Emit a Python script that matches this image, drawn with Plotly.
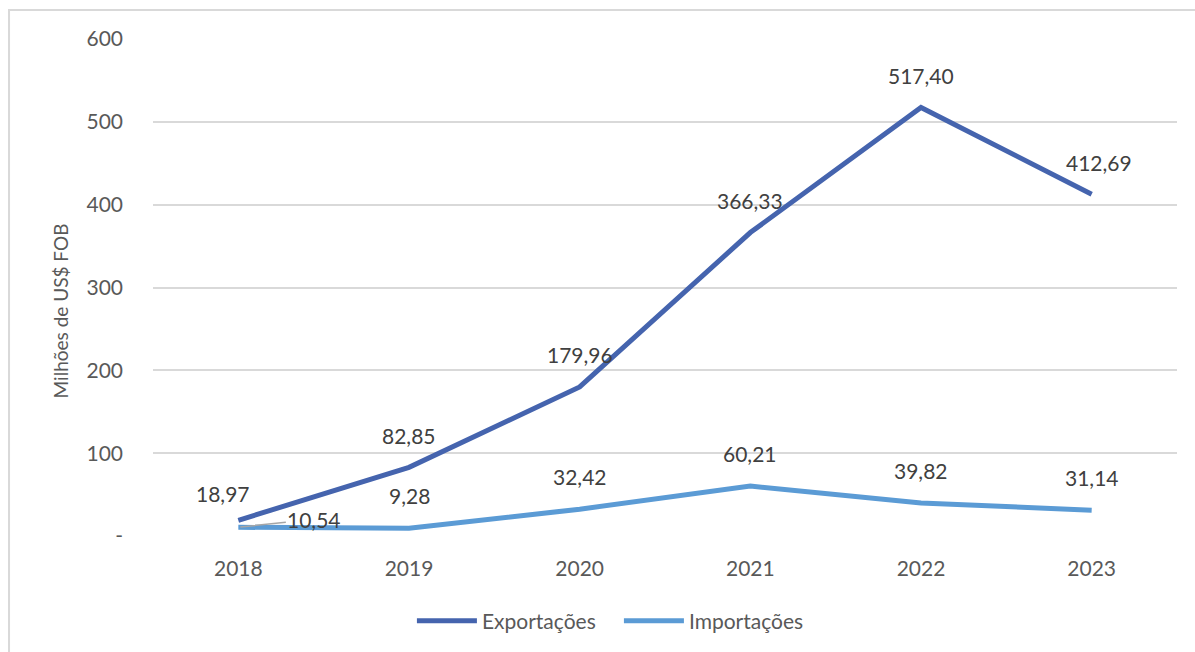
import plotly.graph_objects as go

years = ["2018", "2019", "2020", "2021", "2022", "2023"]
exportacoes = [18.97, 82.85, 179.96, 366.33, 517.40, 412.69]
importacoes = [10.54, 9.28, 32.42, 60.21, 39.82, 31.14]
y_ticks = [0, 100, 200, 300, 400, 500, 600]
y_tick_text = ["-", "100", "200", "300", "400", "500", "600"]
y_title = "Milhões de US$ FOB"

def br(v):
    return f"{v:.2f}".replace(".", ",")

FONT = "Lato, 'Open Sans', sans-serif"
TXT = "#595959"
LBL = "#404040"
C_EXP = "#4564AE"
C_IMP = "#5B9BD5"

fig = go.Figure()
fig.add_trace(go.Scatter(x=years, y=exportacoes, mode="lines", name="Exportações",
                         line=dict(color=C_EXP, width=5)))
fig.add_trace(go.Scatter(x=years, y=importacoes, mode="lines", name="Importações",
                         line=dict(color=C_IMP, width=5)))

# data labels (pixel offsets from each point); x given as category index
exp_off = [(-15, 27), (0, 32), (0, 32), (0, 32), (0, 32), (7, 32)]
imp_off = [None, (0, 33), (0, 33), (0, 33), (0, 33), (0, 33)]
for i, v in enumerate(exportacoes):
    dx, dy = exp_off[i]
    fig.add_annotation(x=i, y=v, text=br(v), showarrow=False, xshift=dx, yshift=dy,
                       font=dict(family=FONT, size=21, color=LBL))
for i, v in enumerate(importacoes):
    if imp_off[i] is None:
        fig.add_annotation(x=i, y=v, text=br(v), showarrow=True, arrowhead=0,
                           arrowcolor="#A6A6A6", arrowwidth=1.5, ax=76, ay=-8,
                           standoff=2,
                           font=dict(family=FONT, size=21, color=LBL))
    else:
        dx, dy = imp_off[i]
        fig.add_annotation(x=i, y=v, text=br(v), showarrow=False, xshift=dx, yshift=dy,
                           font=dict(family=FONT, size=21, color=LBL))

# y-axis title (placed as in the reference, slightly below centre)
fig.add_annotation(xref="paper", yref="paper", x=-0.0908, y=0.452, text=y_title,
                   textangle=-90, showarrow=False, xanchor="center", yanchor="middle",
                   font=dict(family=FONT, size=19, color=TXT))

# outer chart border
fig.add_shape(type="rect", xref="paper", yref="paper", x0=-0.1406, x1=1.05, y0=-0.4, y1=1.0582,
              line=dict(color="#D9D9D9", width=2), layer="below")

fig.update_layout(
    width=1195, height=652,
    margin=dict(l=153, r=18, t=39, b=115),
    paper_bgcolor="white", plot_bgcolor="white",
    font=dict(family=FONT, size=20, color=TXT),
    showlegend=True,
    legend=dict(orientation="h", x=0.455, xanchor="center", y=-0.169, yanchor="middle",
                font=dict(family=FONT, size=21, color=TXT), itemwidth=60,
                entrywidth=132, entrywidthmode="pixels",
                traceorder="normal"),
    xaxis=dict(type="category", range=[-0.5, 5.5], showgrid=False, zeroline=False,
               showline=False, ticks="", ticklabelstandoff=18,
               tickfont=dict(size=21, color=TXT)),
    yaxis=dict(range=[0, 600], tickvals=y_ticks, ticktext=y_tick_text,
               showgrid=True, gridcolor="#D9D9D9", gridwidth=1.5, zeroline=False,
               showline=False, ticks="", ticklabelstandoff=29,
               tickfont=dict(size=21, color=TXT)),
)

fig.write_html("out.html", config={"displayModeBar": False},
               post_script="document.body.style.margin='0';document.body.style.overflow='hidden';")
